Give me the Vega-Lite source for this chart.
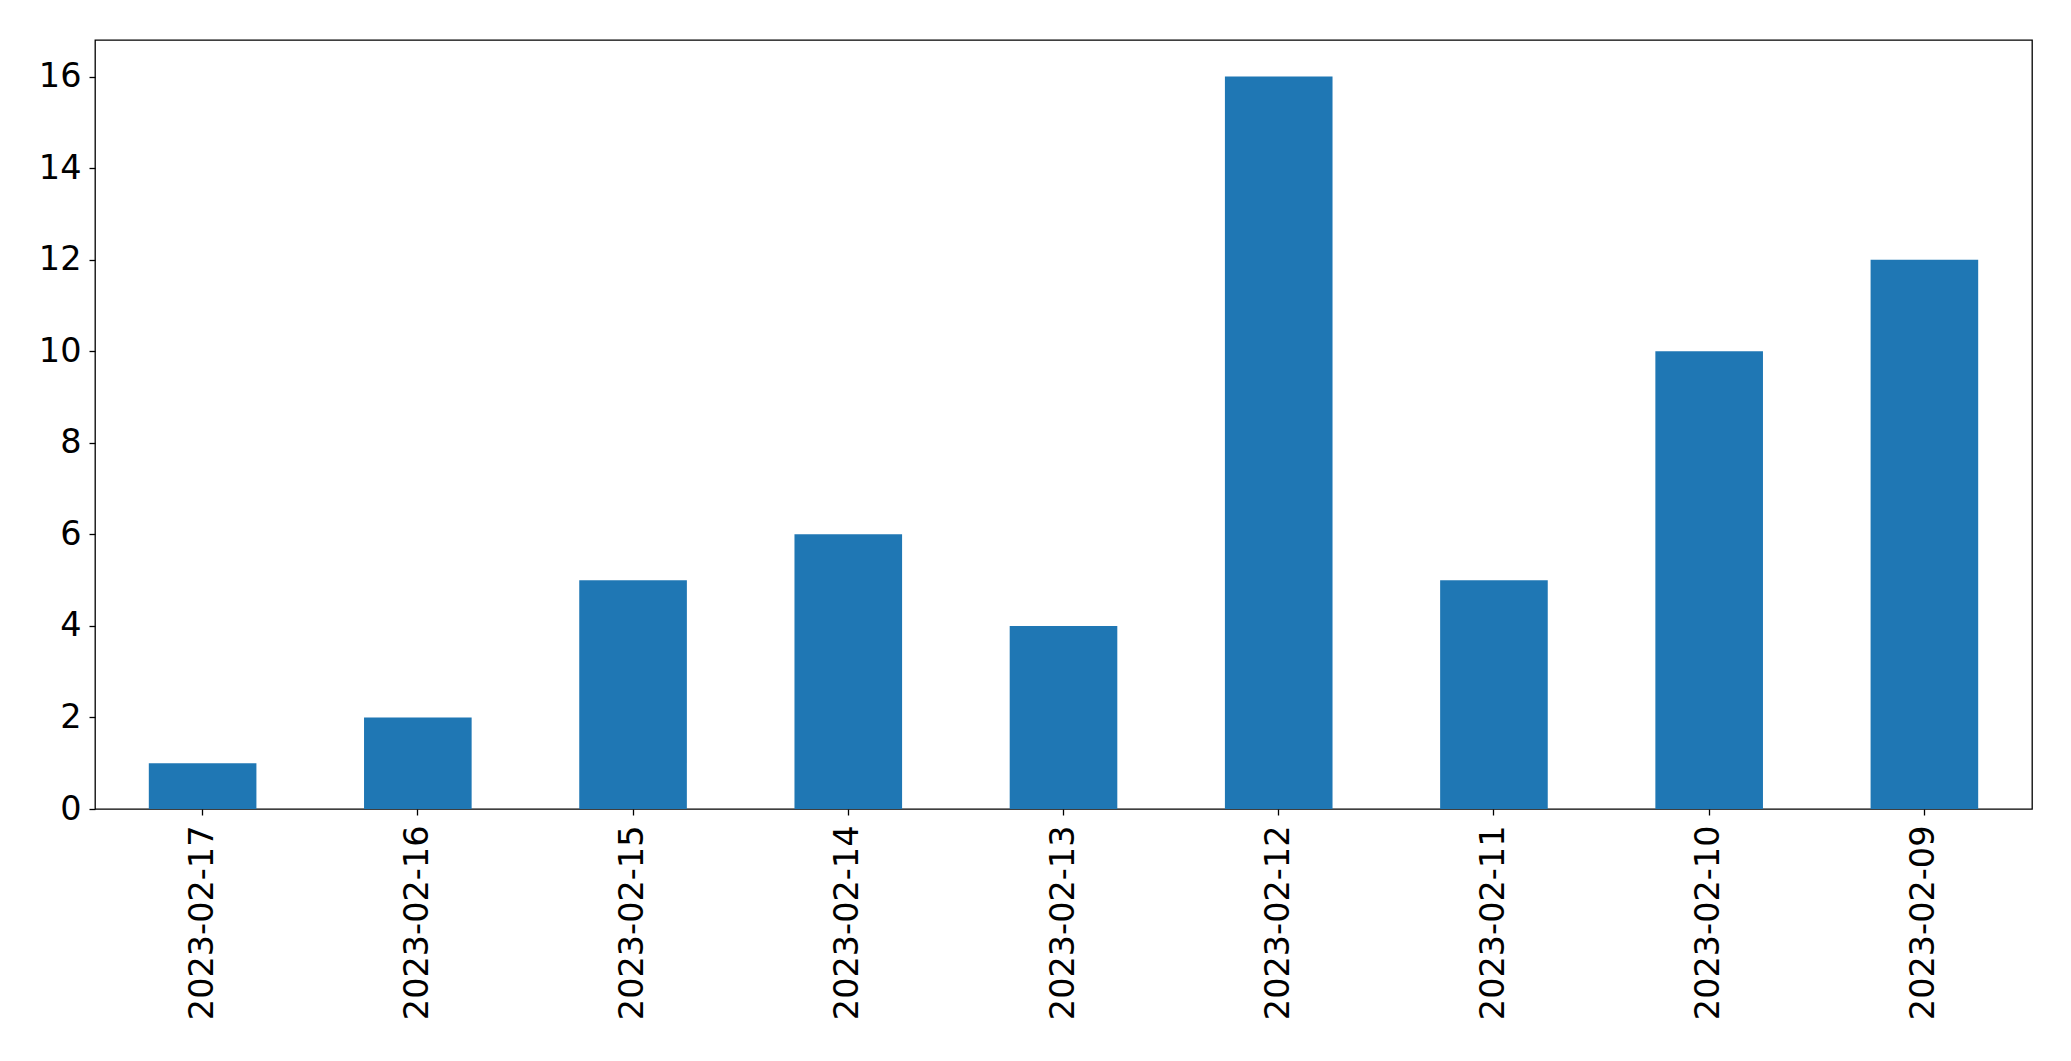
{
  "$schema": "https://vega.github.io/schema/vega-lite/v6.json",
  "autosize": "none",
  "width": 1937,
  "height": 769,
  "padding": {"left": 95, "top": 40, "right": 39, "bottom": 252},
  "background": "white",
  "config": {
    "view": {"stroke": "black", "strokeWidth": 1.3},
    "axis": {
      "labelFont": "DejaVu Sans",
      "labelFontSize": 33.5,
      "labelColor": "black",
      "labelLimit": 500,
      "tickColor": "black",
      "tickSize": 6,
      "tickWidth": 1.3,
      "domain": false,
      "grid": false,
      "title": null
    }
  },
  "data": {
    "values": [
      {"date": "2023-02-17", "count": 1},
      {"date": "2023-02-16", "count": 2},
      {"date": "2023-02-15", "count": 5},
      {"date": "2023-02-14", "count": 6},
      {"date": "2023-02-13", "count": 4},
      {"date": "2023-02-12", "count": 16},
      {"date": "2023-02-11", "count": 5},
      {"date": "2023-02-10", "count": 10},
      {"date": "2023-02-09", "count": 12}
    ]
  },
  "mark": {"type": "bar", "color": "#1f77b4"},
  "encoding": {
    "x": {
      "field": "date",
      "type": "nominal",
      "sort": null,
      "scale": {"paddingInner": 0.5, "paddingOuter": 0.25},
      "axis": {"labelAngle": -90, "labelPadding": 10}
    },
    "y": {
      "field": "count",
      "type": "quantitative",
      "scale": {"domain": [0, 16.8], "nice": false, "zero": true},
      "axis": {"values": [0, 2, 4, 6, 8, 10, 12, 14, 16], "labelPadding": 8}
    }
  }
}
